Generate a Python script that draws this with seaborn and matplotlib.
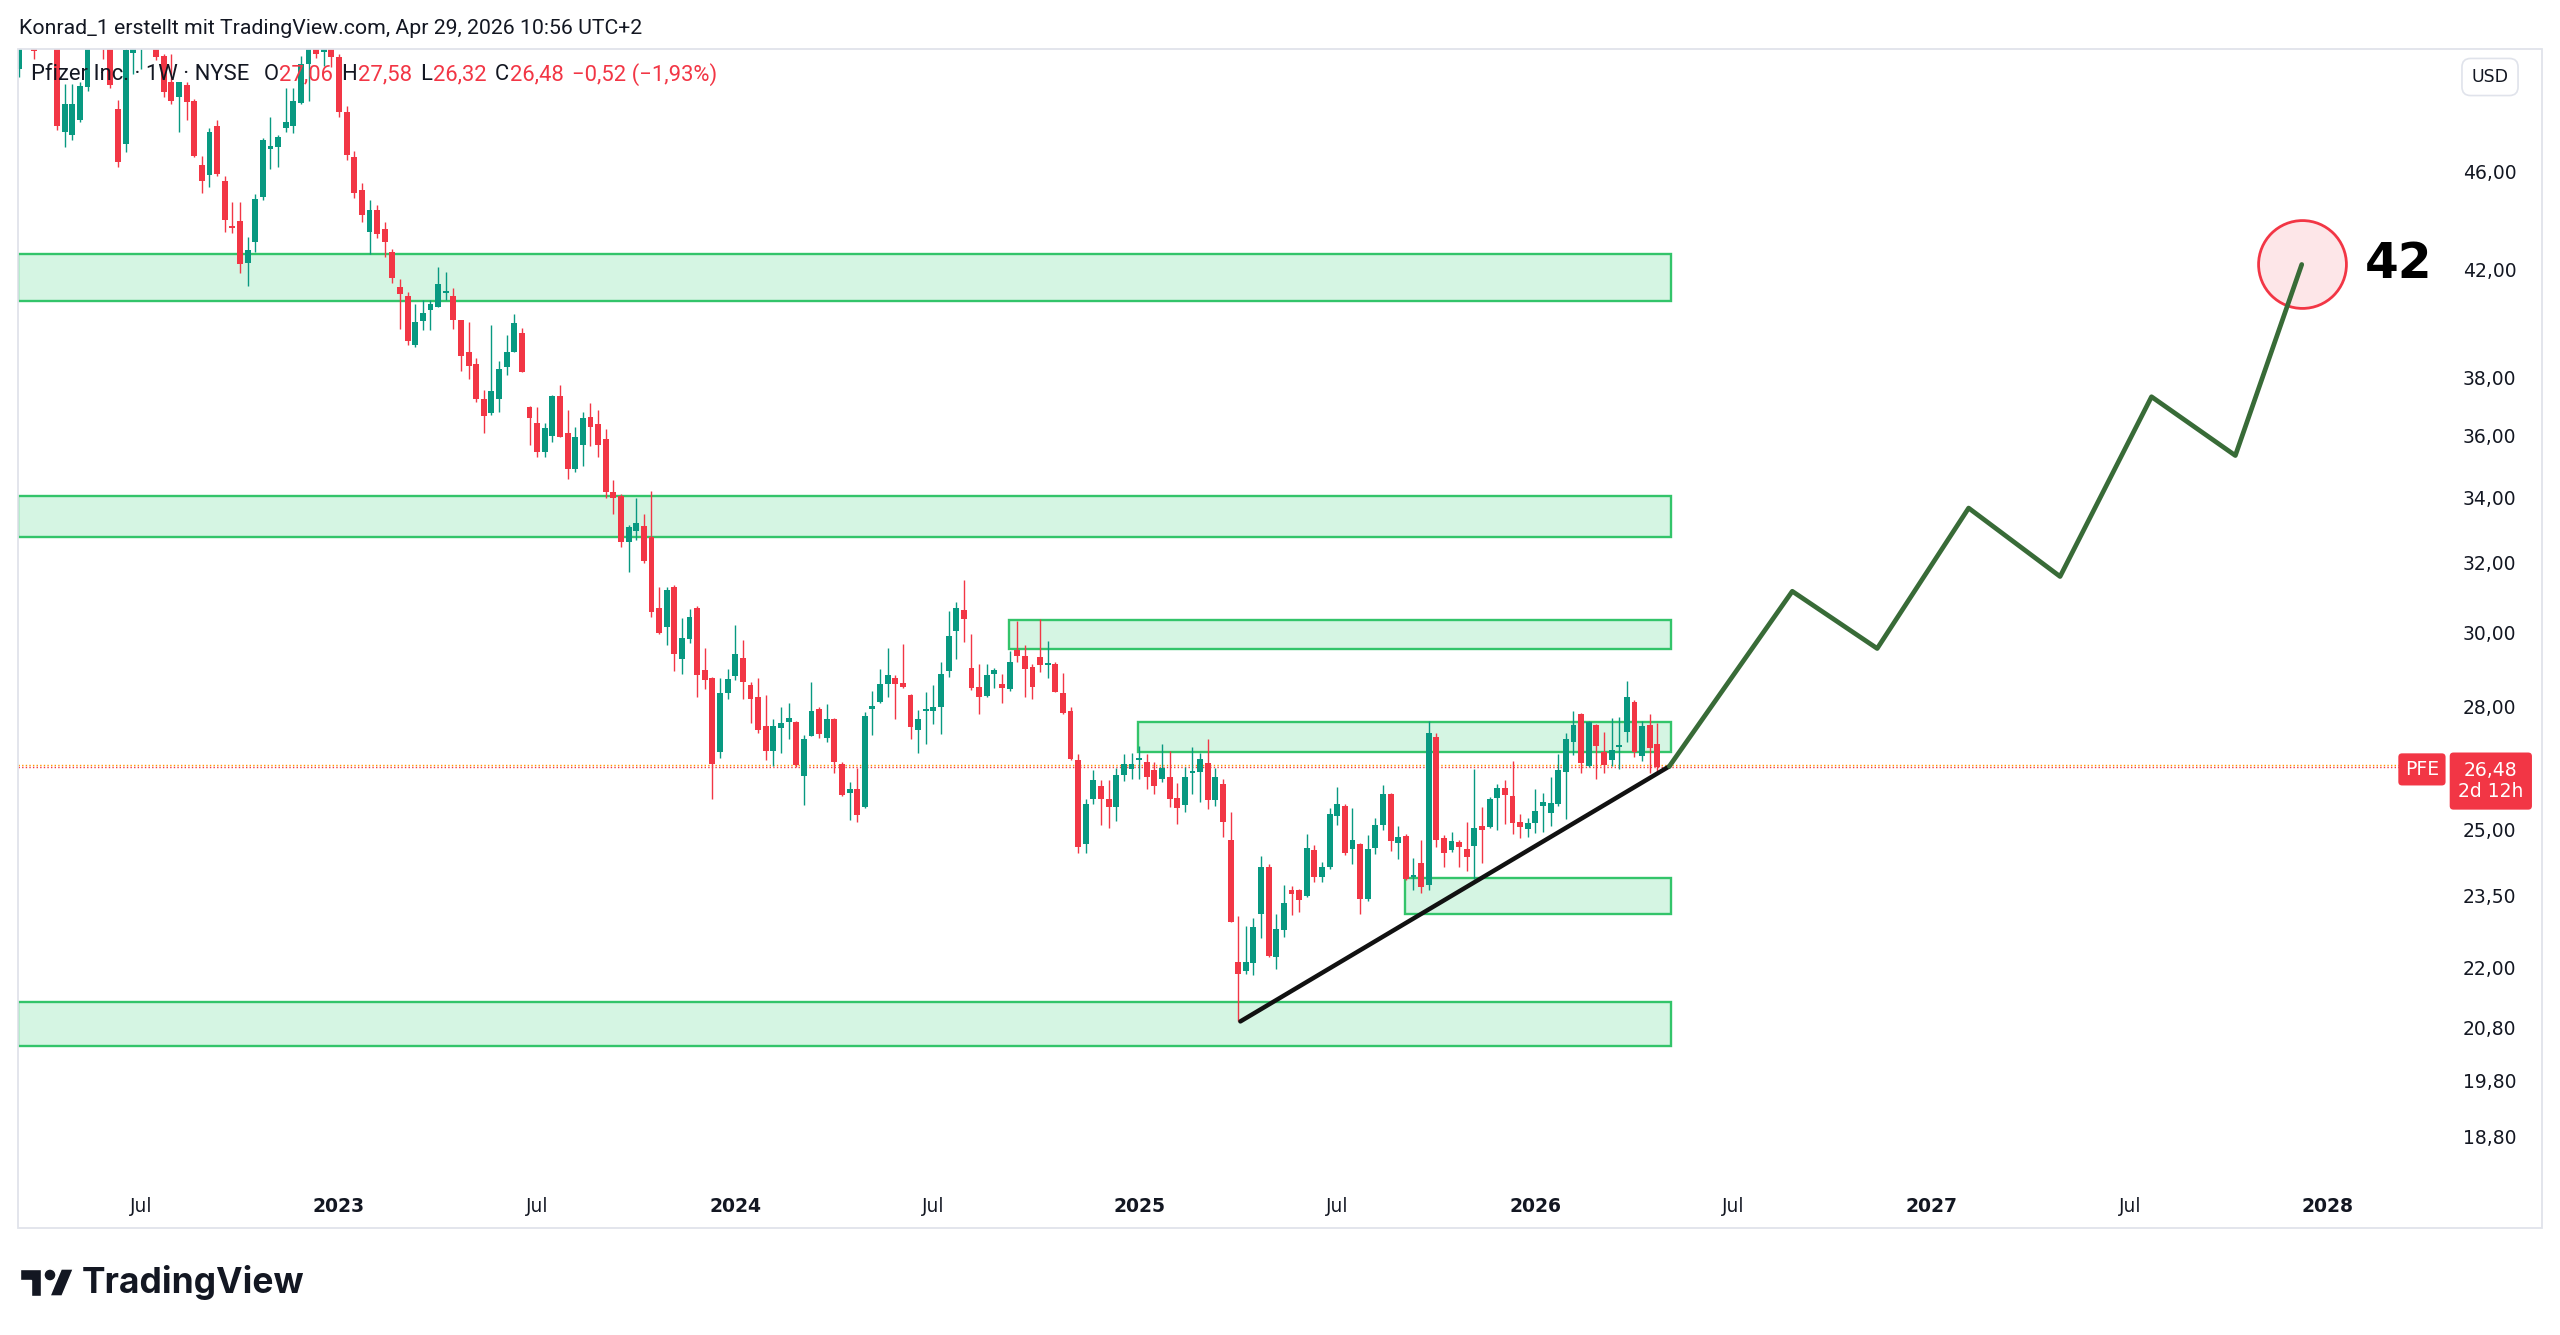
import numpy as np
import pandas as pd
import matplotlib
matplotlib.use("Agg")
import matplotlib.pyplot as plt
import matplotlib.dates as mdates
from matplotlib.ticker import NullLocator, NullFormatter
from matplotlib.patches import Rectangle, Polygon, Circle
import seaborn as sns

# Pfizer weekly candles (NYSE, 1W), first bar = week of 2022-03-14
first_week = "2022-03-14"
opens = [
    50.6, 52.3, 52.7, 51.8, 53.0, 52.4, 47.7, 47.6, 48.25, 49.73,
    52.0, 53.0, 51.8, 48.74, 47.18, 51.35, 51.7, 52.1, 52.2, 51.2,
    50.0, 49.27, 49.84, 49.12, 46.27, 45.84, 47.97, 45.6, 43.71, 43.94,
    42.25, 43.07, 44.94, 46.97, 47.05, 47.88, 48.0, 49.0, 50.8, 53.0,
    51.4, 53.6, 51.13, 48.6, 46.6, 45.2, 43.5, 44.4, 43.6, 42.7,
    41.34, 40.98, 39.16, 40.06, 40.46, 40.58, 41.1, 41.0, 40.1, 38.9,
    38.47, 37.24, 36.76, 37.25, 38.39, 38.92, 39.6, 36.96, 36.44, 35.48,
    36.0, 37.35, 36.1, 34.92, 35.7, 36.63, 36.39, 35.9, 34.18, 34.04,
    32.64, 32.97, 33.1, 32.78, 30.7, 30.15, 31.28, 29.26, 29.82, 30.7,
    28.97, 28.75, 26.86, 28.37, 28.81, 29.3, 28.57, 28.27, 27.5, 26.87,
    27.47, 27.6, 27.62, 26.26, 27.26, 27.96, 27.2, 27.7, 26.57, 25.86,
    25.96, 25.52, 27.96, 28.14, 28.61, 28.75, 28.62, 28.31, 27.42, 27.9,
    27.9, 28.01, 28.96, 30.04, 30.63, 29.04, 28.53, 28.29, 28.87, 28.61,
    28.48, 29.53, 29.36, 29.06, 29.32, 29.12, 29.15, 28.37, 27.9, 26.66,
    24.65, 25.7, 26.02, 25.72, 25.53, 26.3, 26.44, 26.65, 26.6, 26.4,
    26.19, 26.25, 25.74, 25.57, 26.33, 26.37, 26.58, 25.68, 26.06, 24.75,
    22.1, 21.93, 22.08, 23.1, 24.15, 22.2, 22.78, 23.62, 23.62, 23.51,
    24.53, 23.92, 24.15, 25.32, 25.54, 24.55, 24.67, 23.43, 24.56, 25.1,
    25.82, 24.68, 24.85, 23.92, 24.22, 23.75, 27.22, 24.79, 24.52, 24.71,
    24.55, 24.62, 25.08, 25.06, 25.73, 25.98, 25.78, 25.16, 25.01, 25.15,
    25.55, 25.37, 25.6, 26.36, 27.11, 27.81, 26.5, 27.53, 26.86, 26.65,
    26.97, 27.37, 28.13, 26.75, 27.53, 27.06,
]
highs = [
    53.0, 53.6, 53.2, 53.5, 54.2, 52.8, 49.9, 49.9, 49.96, 52.6,
    53.4, 53.5, 52.2, 49.16, 51.9, 52.3, 52.6, 52.9, 52.6, 51.3,
    51.3, 50.0, 50.0, 49.2, 46.67, 47.88, 48.26, 45.79, 44.73, 44.73,
    43.27, 45.05, 47.43, 48.37, 47.6, 49.7, 49.7, 51.2, 53.0, 54.5,
    54.9, 54.0, 51.3, 48.9, 46.9, 45.5, 44.8, 44.6, 43.9, 42.8,
    41.62, 41.15, 40.7, 40.83, 40.83, 42.1, 41.9, 41.3, 40.1, 40.0,
    38.68, 37.56, 39.9, 38.6, 39.52, 40.3, 39.8, 37.0, 36.96, 36.42,
    37.38, 37.74, 36.88, 36.3, 36.8, 37.1, 36.86, 36.22, 34.55, 34.1,
    33.14, 34.0, 33.5, 34.2, 31.3, 31.3, 31.35, 30.4, 30.65, 30.75,
    29.57, 28.8, 28.75, 29.0, 30.22, 29.8, 28.66, 28.75, 28.3, 27.68,
    28.0, 28.1, 27.64, 27.28, 28.65, 28.0, 28.07, 27.72, 26.6, 26.12,
    26.45, 27.87, 28.43, 29.0, 29.57, 28.85, 29.67, 28.33, 27.93, 28.4,
    28.57, 29.2, 30.6, 30.87, 31.5, 29.96, 29.15, 29.15, 29.04, 28.86,
    29.5, 30.32, 29.65, 29.13, 30.37, 29.76, 29.19, 28.9, 28.0, 26.8,
    25.72, 26.42, 26.17, 26.17, 26.47, 26.8, 26.83, 27.0, 26.8, 26.6,
    27.05, 26.87, 26.1, 26.49, 26.98, 26.83, 27.17, 26.47, 26.18, 25.4,
    23.07, 22.85, 23.02, 24.39, 24.2, 23.12, 23.73, 23.72, 23.66, 24.9,
    24.63, 24.25, 25.49, 26.0, 25.58, 25.5, 24.69, 24.86, 25.27, 26.05,
    25.86, 25.07, 24.9, 24.35, 24.75, 27.65, 27.32, 24.87, 24.93, 24.76,
    25.17, 26.43, 25.52, 25.77, 26.08, 26.16, 26.62, 25.36, 25.26, 25.96,
    25.86, 26.25, 26.8, 27.32, 27.9, 27.85, 27.64, 27.55, 27.37, 27.71,
    27.75, 28.68, 28.19, 27.64, 27.81, 27.58,
]
lows = [
    50.2, 51.9, 51.05, 51.6, 51.7, 47.8, 47.05, 47.37, 48.14, 49.55,
    51.7, 51.05, 49.7, 46.17, 46.84, 50.35, 50.6, 51.6, 51.0, 49.3,
    48.95, 47.73, 48.26, 46.6, 45.1, 45.33, 45.8, 43.47, 43.44, 41.86,
    41.37, 42.7, 44.81, 46.1, 46.2, 47.7, 47.66, 48.97, 49.1, 51.1,
    50.74, 50.66, 48.4, 46.5, 44.9, 43.9, 42.63, 43.25, 42.5, 41.47,
    39.74, 39.16, 39.1, 39.7, 39.7, 40.55, 40.85, 39.74, 38.24, 37.95,
    37.15, 36.1, 36.72, 36.82, 38.1, 38.9, 38.2, 35.7, 35.29, 35.3,
    35.8, 35.97, 34.58, 34.82, 35.0, 35.67, 35.31, 34.0, 33.5, 32.48,
    31.74, 32.7, 32.0, 30.44, 29.97, 29.65, 28.95, 28.88, 29.72, 28.27,
    28.46, 25.72, 26.7, 28.22, 28.72, 28.22, 27.58, 27.32, 26.66, 26.5,
    26.83, 27.17, 26.49, 25.57, 27.26, 27.2, 27.1, 26.33, 25.78, 25.21,
    25.17, 25.5, 27.28, 28.1, 28.27, 27.68, 28.5, 27.17, 26.83, 27.05,
    27.55, 27.3, 28.8, 29.27, 29.75, 28.44, 27.82, 28.25, 28.5, 28.1,
    28.42, 29.19, 28.26, 28.2, 28.92, 28.77, 28.38, 27.83, 26.65, 24.45,
    24.45, 25.59, 25.1, 25.02, 25.2, 26.15, 26.2, 26.2, 25.95, 25.82,
    26.13, 25.52, 25.13, 25.41, 25.84, 25.63, 25.47, 25.54, 24.83, 22.93,
    20.92, 21.87, 21.85, 22.6, 22.2, 21.97, 22.62, 23.08, 23.16, 23.48,
    23.81, 23.8, 24.1, 25.1, 24.4, 24.2, 23.1, 23.38, 24.43, 24.98,
    24.5, 24.33, 23.85, 23.62, 23.56, 23.62, 24.6, 24.14, 24.48, 24.13,
    24.06, 23.88, 24.24, 25.02, 24.99, 25.11, 24.9, 24.8, 24.81, 24.92,
    24.94, 25.07, 25.55, 25.24, 26.78, 26.33, 26.48, 26.2, 26.33, 26.51,
    26.43, 27.1, 26.73, 26.63, 26.33, 26.32,
]
closes = [
    52.3, 52.9, 51.45, 53.0, 52.4, 48.0, 48.95, 48.95, 49.8, 52.0,
    52.9, 51.8, 49.84, 46.41, 51.48, 51.7, 52.1, 52.4, 51.13, 49.5,
    49.12, 49.96, 49.04, 46.67, 45.58, 47.73, 45.9, 43.97, 43.64, 42.21,
    42.78, 44.84, 47.37, 47.08, 47.5, 48.14, 49.12, 50.8, 52.0, 51.3,
    53.5, 51.13, 48.6, 46.7, 45.1, 44.2, 44.4, 43.4, 43.1, 41.66,
    41.06, 39.3, 40.0, 40.33, 40.7, 41.43, 41.15, 40.1, 38.78, 38.4,
    37.25, 36.68, 37.53, 38.3, 38.9, 39.96, 38.2, 36.6, 35.45, 36.25,
    37.35, 35.97, 34.92, 35.97, 36.6, 36.29, 35.69, 34.18, 34.0, 32.64,
    33.09, 33.2, 32.06, 30.58, 30.0, 31.2, 29.4, 29.86, 30.44, 28.84,
    28.7, 26.57, 28.37, 28.74, 29.42, 28.65, 28.22, 27.4, 26.87, 27.5,
    27.58, 27.71, 26.53, 27.17, 27.9, 27.3, 27.7, 26.61, 25.8, 25.96,
    25.34, 27.77, 28.0, 28.59, 28.83, 28.6, 28.52, 27.48, 27.7, 27.96,
    28.01, 28.86, 29.91, 30.7, 30.38, 28.5, 28.25, 28.85, 28.97, 28.49,
    29.2, 29.35, 29.01, 28.52, 29.1, 29.15, 28.4, 27.85, 26.67, 24.6,
    25.6, 26.17, 25.7, 25.53, 26.3, 26.57, 26.55, 26.67, 26.25, 26.02,
    26.47, 25.7, 25.49, 26.25, 26.37, 26.67, 25.68, 26.23, 25.16, 22.95,
    21.87, 22.1, 22.83, 24.15, 22.22, 22.8, 23.34, 23.55, 23.41, 24.56,
    23.92, 24.15, 25.36, 25.6, 24.45, 24.75, 23.43, 24.55, 25.1, 25.82,
    24.72, 24.83, 23.87, 23.97, 23.7, 27.32, 24.75, 24.45, 24.73, 24.6,
    24.37, 25.02, 24.98, 25.72, 25.98, 25.8, 25.14, 25.05, 25.14, 25.43,
    25.63, 25.62, 26.4, 27.17, 27.53, 26.59, 27.6, 27.0, 26.53, 26.9,
    26.99, 28.26, 26.86, 27.51, 26.95, 26.48,
]

# support / resistance boxes
zone_lows = [40.8, 32.78, 29.55, 26.85, 23.1, 20.45]
zone_highs = [42.6, 34.05, 30.35, 27.6, 23.9, 21.3]
zone_starts = [None, None, "2024-09-08", "2025-01-05", "2025-09-07", None]
zone_end = "2026-05-10"

# rising trendline and projected path
trend_dates = ["2025-04-09", "2026-05-08"]
trend_prices = [20.92, 26.5]
proj_dates = ["2026-05-08", "2026-08-29", "2026-11-15", "2027-02-07",
              "2027-05-02", "2027-07-25", "2027-10-10", "2027-12-10"]
proj_prices = [26.5, 31.17, 29.56, 33.67, 31.6, 37.33, 35.35, 42.2]
target_label = "42"

last_price = 26.48
ext_price = 26.53
price_ticks = [18.8, 19.8, 20.8, 22.0, 23.5, 25.0, 28.0, 30.0, 32.0, 34.0, 36.0, 38.0, 42.0, 46.0]
time_ticks = ["2022-07-04", "2023-01-02", "2023-07-03", "2024-01-01", "2024-07-01", "2025-01-06",
              "2025-07-07", "2026-01-05", "2026-07-06", "2027-01-04", "2027-07-05", "2028-01-03"]
time_labels = ["Jul", "2023", "Jul", "2024", "Jul", "2025", "Jul", "2026", "Jul", "2027", "Jul", "2028"]

UP = "#089981"
DOWN = "#f23645"
TXT = "#131722"
ZONE_FILL = "#d5f5e3"
ZONE_EDGE = "#33c46a"
PROJ = "#386b37"

sns.set_theme(style="white")
plt.rcParams["font.family"] = ["DejaVu Sans"]

W, H = 2560, 1335
fig = plt.figure(figsize=(W / 100, H / 100), dpi=100)
fig.patch.set_facecolor("white")


def fx(px):
    return px / W


def fy(py):
    return 1 - py / H


ax = fig.add_axes([fx(18), fy(1180), fx(2445) - fx(18), fy(49) - fy(1180)])
ax.set_facecolor("white")

weeks = pd.date_range(first_week, periods=len(closes), freq="7D")
df = pd.DataFrame({"x": mdates.date2num(weeks), "open": opens, "high": highs,
                   "low": lows, "close": closes})
df["color"] = np.where(df["close"] >= df["open"], UP, DOWN)
df["body_lo"] = df[["open", "close"]].min(axis=1)
df["body_h"] = np.maximum((df["close"] - df["open"]).abs(), df["close"] * 0.002)

ax.set_yscale("log")
x_left = df["x"].iloc[0] - 0.9
x_right = df["x"].iloc[0] + 2228.6

# boxes
for lo, hi, start in zip(zone_lows, zone_highs, zone_starts):
    x0 = x_left if start is None else mdates.date2num(pd.Timestamp(start))
    x1 = mdates.date2num(pd.Timestamp(zone_end))
    ax.add_patch(Rectangle((x0, lo), x1 - x0, hi - lo, fc=ZONE_FILL, ec=ZONE_EDGE,
                           lw=1.7, zorder=1))

ax.axhline(ext_price, color="#ff9800", ls=(0, (1, 1.6)), lw=1.0, zorder=1.5)
ax.axhline(last_price, color=DOWN, ls=(0, (1, 1.6)), lw=1.0, zorder=1.6)

# candles
ax.vlines(df["x"], df["low"], df["high"], colors=df["color"], lw=1.0, zorder=2)
ax.bar(df["x"], df["body_h"], bottom=df["body_lo"], width=5.4, color=df["color"],
       lw=0, zorder=3)

# trendline + projection
trend_x = mdates.date2num(pd.to_datetime(trend_dates))
proj_x = mdates.date2num(pd.to_datetime(proj_dates))
sns.lineplot(x=trend_x, y=trend_prices, ax=ax, color="#111111", lw=3.2, sort=False, zorder=5)
ax.scatter([proj_x[-1]], [proj_prices[-1]], s=4000, fc="#fde6e8", ec=DOWN, lw=2.0, zorder=4)
sns.lineplot(x=proj_x, y=proj_prices, ax=ax, color=PROJ, lw=3.4, sort=False, zorder=6)
ax.annotate(target_label, xy=(proj_x[-1], proj_prices[-1]), xytext=(70, 0),
            textcoords="offset points", ha="center", va="center", fontsize=35,
            fontweight="bold", color="black", zorder=7)

ax.set_xlim(x_left, x_right)
ax.set_ylim(18.06, 51.53)
ax.set_xlabel("")
ax.set_ylabel("")
ax.grid(False)
for s in ax.spines.values():
    s.set_visible(False)

ax.yaxis.tick_right()
ax.yaxis.set_minor_locator(NullLocator())
ax.yaxis.set_minor_formatter(NullFormatter())
ax.set_yticks(price_ticks)
ax.set_yticklabels([f"{v:.2f}".replace(".", ",") for v in price_ticks])
ax.tick_params(axis="y", length=0, pad=13, labelsize=13.5, labelcolor=TXT)

ax.set_xticks(mdates.date2num(pd.to_datetime(time_ticks)))
ax.set_xticklabels(time_labels)
ax.tick_params(axis="x", length=0, pad=12.5, labelsize=13.5, labelcolor=TXT)
for lbl in ax.get_xticklabels():
    if lbl.get_text().isdigit():
        lbl.set_fontweight("bold")

# price labels on the scale
ax.annotate("PFE", xy=(1, last_price), xycoords=("axes fraction", "data"),
            xytext=(-16.6, -1.6), textcoords="offset points", ha="center", va="center",
            fontsize=13.5, color="white", annotation_clip=False, zorder=10,
            bbox=dict(boxstyle="round,pad=0.35,rounding_size=0.2", fc=DOWN, ec="none"))
ax.annotate(f"{last_price:.2f}".replace(".", ",") + "\n2d 12h", xy=(1, last_price),
            xycoords=("axes fraction", "data"), xytext=(33, -10), textcoords="offset points",
            ha="center", va="center", fontsize=13.5, color="white", linespacing=1.15,
            annotation_clip=False, zorder=10,
            bbox=dict(boxstyle="round,pad=0.45,rounding_size=0.2", fc=DOWN, ec="none"))

# chart frame
fig.add_artist(Rectangle((fx(18), fy(1228)), fx(2542) - fx(18), fy(49) - fy(1228),
                         transform=fig.transFigure, fill=False, ec="#e0e3eb", lw=1.3))

fig.text(fx(2490), fy(77), "USD", ha="center", va="center", fontsize=12.5, color=TXT,
         bbox=dict(boxstyle="round,pad=0.55,rounding_size=0.5", fc="white", ec="#e0e3eb", lw=1.2))

# header
sans = ["Roboto", "DejaVu Sans"]
fig.text(fx(19), fy(28), "Konrad_1 erstellt mit TradingView.com, Apr 29, 2026 10:56 UTC+2",
         fontsize=15.3, family=sans, color=TXT, va="center", ha="left")

renderer = fig.canvas.get_renderer()
pieces = [("Pfizer Inc. · 1W · NYSE", TXT, 14), ("O", TXT, 1), ("27,06", DOWN, 8),
          ("H", TXT, 1), ("27,58", DOWN, 8), ("L", TXT, 1), ("26,32", DOWN, 8),
          ("C", TXT, 1), ("26,48", DOWN, 8), ("−0,52 (−1,93%)", DOWN, 0)]
xpos = 31
for txt, col, gap in pieces:
    t = fig.text(fx(xpos), fy(75), txt, fontsize=15.8, family=sans, color=col,
                 va="center", ha="left")
    xpos += t.get_window_extent(renderer).width + gap

# TradingView logo
lax = fig.add_axes([fx(20), fy(1296), fx(54), 27 / H])
lax.set_xlim(0, 36)
lax.set_ylim(22, 4)
lax.axis("off")
lax.add_patch(Polygon([(14, 22), (7, 22), (7, 11), (0, 11), (0, 4), (14, 4)], fc="#131722"))
lax.add_patch(Polygon([(28, 22), (20, 22), (27.5, 4), (35.5, 4)], fc="#131722"))
lax.add_patch(Circle((20, 8), 4, fc="#131722"))
fig.text(fx(82), fy(1282), "TradingView", fontsize=25.5, fontweight="bold",
         family=["Inter", "DejaVu Sans"], color="#131722", va="center", ha="left")

fig.savefig("out.png", dpi=100, facecolor="white")
